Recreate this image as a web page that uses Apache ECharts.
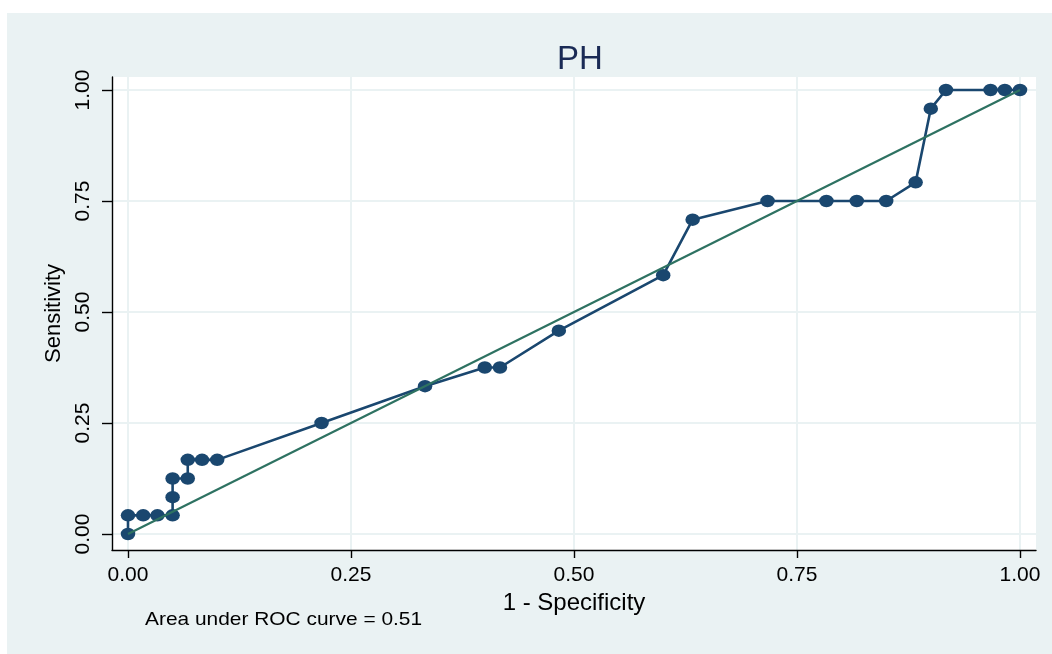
<!DOCTYPE html>
<html>
<head>
<meta charset="utf-8">
<script src="https://cdn.jsdelivr.net/npm/echarts@6/dist/echarts.min.js"></script>
<style>html,body{margin:0;padding:0;background:#fff;}#c{width:1052px;height:654px;}</style>
</head>
<body>
<div id="c"></div>
<script>
// 1 - Specificity (x) and Sensitivity (y)
const fpr = [0, 0, 0.017, 0.033, 0.05, 0.05, 0.05, 0.067, 0.067, 0.083, 0.1, 0.217, 0.333, 0.4, 0.417, 0.483, 0.6, 0.633, 0.717, 0.783, 0.817, 0.85, 0.883, 0.9, 0.917, 0.967, 0.983, 1];
const tpr = [0, 0.042, 0.042, 0.042, 0.042, 0.083, 0.125, 0.125, 0.167, 0.167, 0.167, 0.25, 0.333, 0.375, 0.375, 0.458, 0.583, 0.708, 0.75, 0.75, 0.75, 0.75, 0.792, 0.958, 1, 1, 1, 1];
const refX = [0, 1];
const refY = [0, 1];
const tickValues = [0, 0.25, 0.5, 0.75, 1];
const titleText = 'PH';
const xName = '1 - Specificity';
const yName = 'Sensitivity';
const aucText = 'Area under ROC curve = 0.51';

const font = 'Liberation Sans, Arial, sans-serif';
const chart = echarts.init(document.getElementById('c'));
const roc = fpr.map((x, i) => [x, tpr[i]]);
const ref = refX.map((x, i) => [x, refY[i]]);
const gridColor = '#eaf2f3';

chart.setOption({
  backgroundColor: '#ffffff',
  animation: false,
  graphic: [
    { type: 'rect', z: -10, shape: { x: 7, y: 13, width: 1045, height: 641 }, style: { fill: '#eaf2f3' } },
    { type: 'text', x: 145, y: 610, scaleX: 1.1, style: { text: aucText, font: '19px ' + font, fill: '#000' } }
  ],
  title: {
    text: titleText, left: 575, top: 38, textAlign: 'center',
    textStyle: { fontFamily: font, fontSize: 33, fontWeight: 'normal', color: '#1a2a55' }
  },
  grid: {
    left: 112, top: 77, right: 16, bottom: 104,
    show: true, backgroundColor: '#ffffff', borderWidth: 0
  },
  xAxis: {
    type: 'value', min: -0.01794, max: 1.01794,
    name: xName, nameLocation: 'middle', nameGap: 36,
    nameTextStyle: { fontFamily: font, fontSize: 24, color: '#000' },
    axisLine: { show: true, onZero: false, lineStyle: { color: '#000', width: 1.4 } },
    axisTick: { show: true, length: 8, customValues: tickValues, lineStyle: { color: '#000', width: 1.4 } },
    axisLabel: { customValues: tickValues, formatter: v => v.toFixed(2), fontFamily: font, fontSize: 21, color: '#000', margin: 15 },
    splitLine: { show: true, lineStyle: { color: gridColor, width: 2 } }
  },
  yAxis: {
    type: 'value', min: -0.036, max: 1.0293,
    name: yName, nameLocation: 'middle', nameGap: 47, nameRotate: 90,
    nameTextStyle: { fontFamily: font, fontSize: 22, color: '#000' },
    axisLine: { show: true, onZero: false, lineStyle: { color: '#000', width: 1.4 } },
    axisTick: { show: true, length: 10, customValues: tickValues, lineStyle: { color: '#000', width: 1.4 } },
    axisLabel: { customValues: tickValues, rotate: 90, formatter: v => v.toFixed(2), fontFamily: font, fontSize: 21, color: '#000', margin: 18 },
    splitLine: { show: true, lineStyle: { color: gridColor, width: 2 } }
  },
  series: [
    {
      type: 'line', data: roc, z: 3,
      symbol: 'circle', symbolSize: [14.5, 12.5], showSymbol: true,
      lineStyle: { color: '#1a476f', width: 2.6 },
      itemStyle: { color: '#1a476f' }
    },
    {
      type: 'line', data: ref, z: 4, symbol: 'none',
      lineStyle: { color: '#2e7262', width: 2.2 }
    }
  ]
});
</script>
</body>
</html>
